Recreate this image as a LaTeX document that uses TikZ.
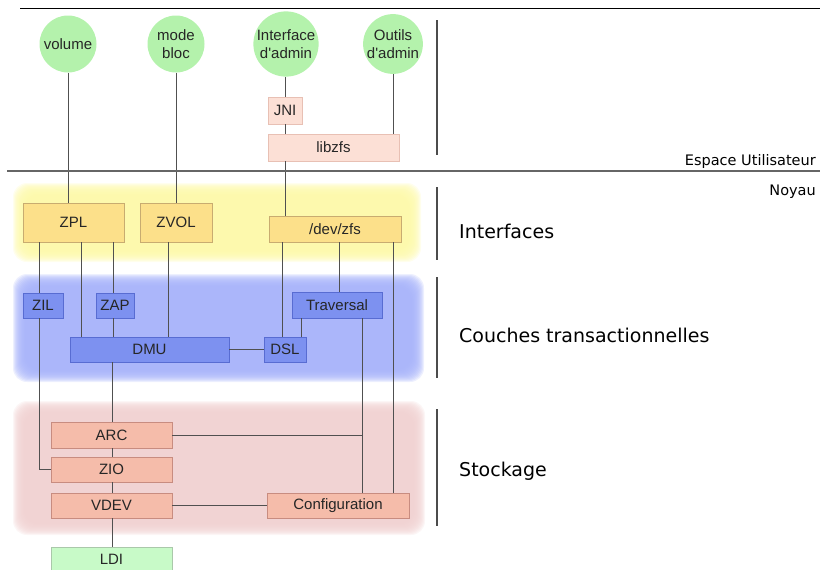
\documentclass[tikz,border=0pt]{standalone}
\usepackage{fontspec}
\setmainfont{DejaVu Sans}
\newfontfamily\diagfont[Ligatures=TeXOff]{Liberation Sans}
\definecolor{bandyellow}{RGB}{253,249,168}
\definecolor{bandblue}{RGB}{166,178,250}
\definecolor{bandpink}{RGB}{240,208,208}
\definecolor{zplfill}{RGB}{252,224,138}
\definecolor{zpldraw}{RGB}{200,172,112}
\definecolor{dmufill}{RGB}{125,145,240}
\definecolor{dmudraw}{RGB}{88,108,210}
\definecolor{arcfill}{RGB}{245,188,170}
\definecolor{arcdraw}{RGB}{200,140,128}
\definecolor{libfill}{RGB}{252,224,214}
\definecolor{libdraw}{RGB}{232,192,180}
\definecolor{ldifill}{RGB}{200,250,200}
\definecolor{ldidraw}{RGB}{170,200,170}
\definecolor{appfill}{RGB}{180,242,172}
\definecolor{wirecol}{RGB}{80,80,80}

\begin{document}
\begin{tikzpicture}[x=1pt, y=-1pt,
	layerbox/.style={draw, line width=0.8pt, inner sep=0pt, text=black!85, font=\diagfont\fontsize{15}{18}\selectfont},
	iface/.style={layerbox, fill=zplfill, draw=zpldraw},
	txn/.style={layerbox, fill=dmufill, draw=dmudraw},
	store/.style={layerbox, fill=arcfill, draw=arcdraw},
	lib/.style={layerbox, fill=libfill, draw=libdraw},
	disk/.style={layerbox, fill=ldifill, draw=ldidraw},
	app/.style={circle, fill=appfill, minimum size=57pt, inner sep=0pt, align=center, text=black!85, font=\diagfont\fontsize{15}{18.5}\selectfont},
	wire/.style={draw=wirecol, line width=0.8pt},
	sep/.style={draw=black!70, line width=1.5pt},
	layername/.style={anchor=base west, inner sep=0pt, font=\fontsize{19}{23}\selectfont},
	space/.style={anchor=base east, inner sep=0pt, font=\fontsize{14.5}{17}\selectfont}]
		%\draw [thin, help lines] (0,0) grid [step=10] (820,570);
		\useasboundingbox (0,0) rectangle (820,570);
		\clip (0,0) rectangle (820,570);
		\foreach \c/\xa/\ya/\xb/\yb in {bandyellow/13/183/421/262, bandblue/13/274/424/382, bandpink/13/401/425/535} {
			\foreach \d in {0,1,...,12}
				\fill[\c, opacity=.2, rounded corners=14pt] (\xa+\d,\ya+\d) rectangle (\xb-\d,\yb-\d);
		}
		\node[app] (vol) at (68,44) {volume};
		\node[app] (bloc) at (176,44) {mode\\bloc};
		\node[app] (adm) at (286,44) {Interface\\d'admin};
		\node[app] (tools) at (393,44) {Outils\\d'admin};
		\node[lib, minimum width=34pt, minimum height=27pt] (JNI) at (285,110.5) {JNI};
		\node[lib, minimum width=131pt, minimum height=27pt] (libzfs) at (333.5,147.5) {libzfs};
		\node[iface, minimum width=101pt, minimum height=39pt] (ZPL) at (73.5,222.5) {ZPL};
		\node[iface, minimum width=72pt, minimum height=39pt] (ZVOL) at (176,222.5) {ZVOL};
		\node[iface, minimum width=132pt, minimum height=26pt] (devzfs) at (335,229) {/dev/zfs};
		\node[txn, minimum width=40pt, minimum height=25pt] (ZIL) at (43,305.5) {ZIL};
		\node[txn, minimum width=38pt, minimum height=25pt] (ZAP) at (115,305.5) {ZAP};
		\node[txn, minimum width=90pt, minimum height=26pt] (trav) at (337,305) {Traversal};
		\node[txn, minimum width=159pt, minimum height=25pt] (DMU) at (149.5,349.5) {DMU};
		\node[txn, minimum width=42pt, minimum height=25pt] (DSL) at (285,349.5) {DSL};
		\node[store, minimum width=121pt, minimum height=26pt] (ARC) at (111.5,435) {ARC};
		\node[store, minimum width=121pt, minimum height=25pt] (ZIO) at (111.5,469.5) {ZIO};
		\node[store, minimum width=121pt, minimum height=25pt] (VDEV) at (111.5,505.5) {VDEV};
		\node[store, minimum width=142pt, minimum height=25pt] (config) at (338,505.5) {Configuration};
		\node[disk, minimum width=121pt, minimum height=25pt] (LDI) at (111.5,559.5) {LDI};
		\draw[wire] (vol.south) -- (vol.south |- ZPL.north);
		\draw[wire] (bloc.south) -- (ZVOL.north);
		\draw[wire] (adm.south -| JNI.north) -- (JNI.north);
		\draw[wire] (JNI.south) -- (JNI.south |- libzfs.north);
		\draw[wire] (libzfs.south -| JNI.south) -- (devzfs.north -| JNI.south);
		\draw[wire] (tools.south) -- (tools.south |- libzfs.north);
		\draw[wire] (ZPL.south -| 39,0) -- (ZIL.north -| 39,0);
		\draw[wire] (ZPL.south -| 81,0) -- (DMU.north -| 81,0);
		\draw[wire] (ZPL.south -| 113,0) -- (ZAP.north -| 113,0);
		\draw[wire] (ZAP.south -| 113,0) -- (DMU.north -| 113,0);
		\draw[wire] (ZVOL.south -| 168,0) -- (DMU.north -| 168,0);
		\draw[wire] (devzfs.south -| 282,0) -- (DSL.north -| 282,0);
		\draw[wire] (devzfs.south -| 339,0) -- (trav.north -| 339,0);
		\draw[wire] (devzfs.south -| 393,0) -- (config.north -| 393,0);
		\draw[wire] (trav.south -| 301,0) -- (DSL.north -| 301,0);
		\draw[wire] (trav.south -| 362,0) -- (config.north -| 362,0);
		\draw[wire] (DMU.east) -- (DSL.west);
		\draw[wire] (DMU.south -| 112,0) -- (ARC.north -| 112,0);
		\draw[wire] (ARC.south -| 112,0) -- (ZIO.north -| 112,0);
		\draw[wire] (ZIO.south -| 112,0) -- (VDEV.north -| 112,0);
		\draw[wire] (VDEV.south -| 112,0) -- (LDI.north -| 112,0);
		\draw[wire] (ZIL.south -| 39,0) |- (ZIO.west);
		\draw[wire] (ARC.east) -- (ARC.east -| 362,0);
		\draw[wire] (VDEV.east) -- (config.west);
		\draw[black, line width=0.8pt] (20,8) -- (820,8);
		\draw[black!60, line width=2pt] (7,171) -- (820,171);
		\foreach \ya/\yb in {20/155, 187/260, 277/378, 409/526}
			\draw[sep] (437,\ya) -- (437,\yb);
		\node[space] (user) at (816,165) {Espace Utilisateur};
		\node[space] (kernel) at (816,195) {Noyau};
		\node[layername] (lyrif) at (459,238) {Interfaces};
		\node[layername] (lyrtx) at (459,342) {Couches transactionnelles};
		\node[layername] (lyrst) at (459,476) {Stockage};
	\end{tikzpicture}
\end{document}
